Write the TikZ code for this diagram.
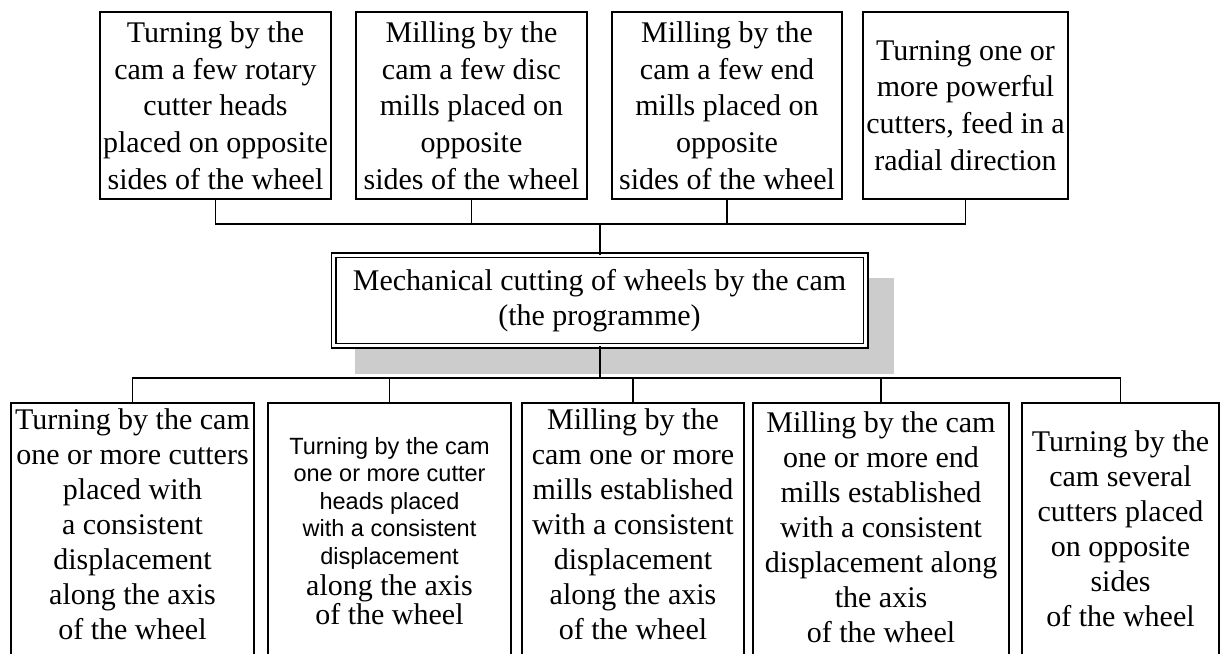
\documentclass[tikz,border=0pt]{standalone}
\usepackage{fontspec}
\setmainfont{Liberation Serif}
\newfontfamily\arialf{Liberation Sans}
\usetikzlibrary{backgrounds}
\begin{document}
\begin{tikzpicture}[x=1pt,y=-1pt,
 every node/.style={inner sep=0pt, outer sep=0pt},
 topbox/.style={draw, line width=1.3pt, minimum height=187pt, align=center, font=\fontsize{30}{36.75}\selectfont},
 frame/.style={draw, line width=1.3pt, minimum height=290pt},
 btext/.style={align=center, font=\fontsize{30}{35}\selectfont},
 stext/.style={align=center, font=\arialf\fontsize{23.5}{27.5}\selectfont},
 mainbox/.style={draw, double, line width=1.5pt, double distance=3pt, fill=white, minimum width=532pt, minimum height=90.5pt, align=center, font=\fontsize{30}{35}\selectfont},
 conn/.style={line width=1.3pt},
 mainconn/.style={line width=2pt}]
\clip (0,0) rectangle (1222,653);
% top boxes
\node[topbox, minimum width=231pt] (T1) at (215.5,105.5) {Turning by the\\cam a few rotary\\cutter heads\\placed on opposite\\sides of the wheel};
\node[topbox, minimum width=231pt] (T2) at (471.5,105.5) {Milling by the\\cam a few disc\\mills placed on\\opposite\\sides of the wheel};
\node[topbox, minimum width=230pt] (T3) at (727,105.5) {Milling by the\\cam a few end\\mills placed on\\opposite\\sides of the wheel};
\node[topbox, minimum width=205pt] (T4) at (965.5,105.5) {Turning one or\\more powerful\\cutters, feed in a\\radial direction};
% main box
\node[mainbox] (M) at (599.5,300.5) {Mechanical cutting of wheels by the cam\\(the programme)};
\begin{scope}[on background layer]
\fill[white] (0,0) rectangle (1222,653);
\fill[gray!40] (355,278) rectangle (894,374);
\end{scope}
% bottom frames
\node[frame, minimum width=243pt] (B1) at (132.5,548) {};
\node[frame, minimum width=243pt] (B2) at (389.5,548) {};
\node[frame, minimum width=222pt] (B3) at (633,548) {};
\node[frame, minimum width=256pt] (B4) at (881,548) {};
\node[frame, minimum width=197pt] (B5) at (1120.5,548) {};
% bottom texts
\node[btext] (B1t) at (132.5,524) {Turning by the cam\\one or more cutters\\placed with\\a consistent\\displacement\\along the axis\\of the wheel};
\node[stext] (B2t) at (389.5,503) {Turning by the cam\\one or more cutter\\heads placed\\with a consistent\\displacement};
\node[btext, font=\fontsize{30}{26}\selectfont] (B2u) at (389.5,600) {along the axis\\of the wheel};
\node[btext] (B3t) at (633,524) {Milling by the\\cam one or more\\mills established\\with a consistent\\displacement\\along the axis\\of the wheel};
\node[btext] (B4t) at (881,527) {Milling by the cam\\one or more end\\mills established\\with a consistent\\displacement along\\the axis\\of the wheel};
\node[btext] (B5t) at (1120.5,529) {Turning by the\\cam several\\cutters placed\\on opposite\\sides\\of the wheel};
% connectors
\coordinate (tb) at (599.5,224);
\coordinate (bb) at (599.5,378);
\draw[conn] (T1.south) |- (tb);
\draw[conn] (T2.south) |- (tb);
\draw[conn] (T3.south) |- (tb);
\draw[conn] (T4.south) |- (tb);
\draw[mainconn] (tb) -- (M.north);
\draw[mainconn] (M.south) -- (bb);
\draw[conn] (B1.north) |- (bb);
\draw[conn] (B2.north) |- (bb);
\draw[conn] (B3.north) |- (bb);
\draw[conn] (B4.north) |- (bb);
\draw[conn] (B5.north) |- (bb);
\end{tikzpicture}
\end{document}
